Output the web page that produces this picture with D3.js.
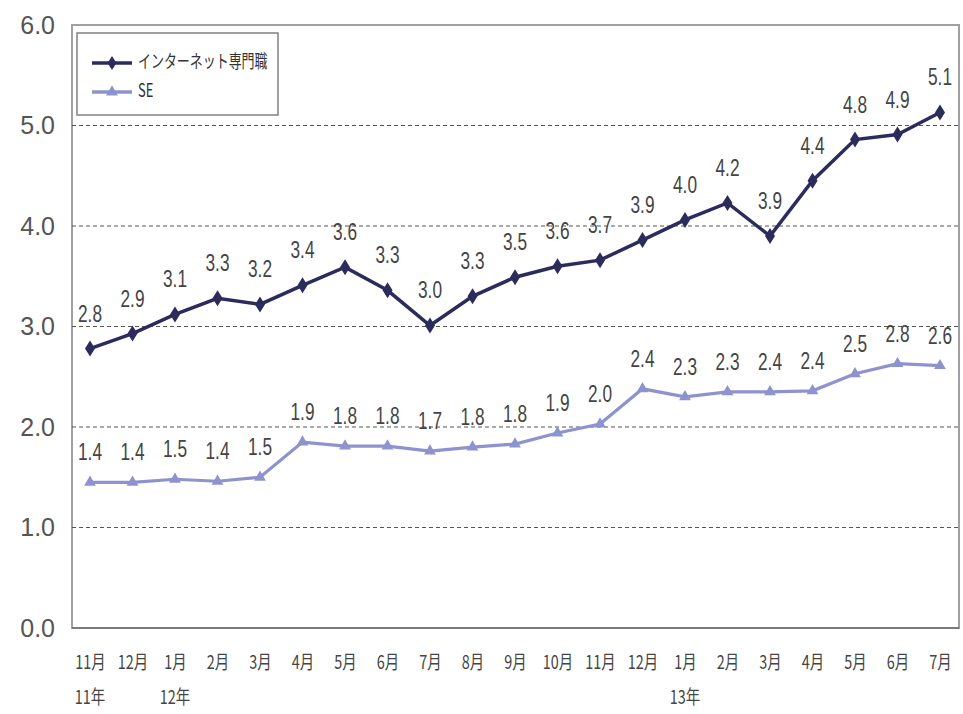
<!DOCTYPE html>
<html><head><meta charset="utf-8">
<script src="https://cdn.jsdelivr.net/npm/d3@7"></script>
<style>body{margin:0;background:#fff}svg{display:block}</style>
</head><body>
<svg id="c" width="963" height="714"></svg>
<script>
const months = ["11月","12月","1月","2月","3月","4月","5月","6月","7月","8月","9月","10月","11月","12月","1月","2月","3月","4月","5月","6月","7月"];
const years = [{i:0,t:"11年"},{i:2,t:"12年"},{i:14,t:"13年"}];
const netValues = [2.78,2.93,3.12,3.28,3.22,3.41,3.59,3.36,3.01,3.30,3.49,3.60,3.66,3.86,4.06,4.23,3.90,4.45,4.86,4.91,5.13];
const netLabels = ["2.8","2.9","3.1","3.3","3.2","3.4","3.6","3.3","3.0","3.3","3.5","3.6","3.7","3.9","4.0","4.2","3.9","4.4","4.8","4.9","5.1"];
const seValues = [1.45,1.45,1.48,1.46,1.50,1.85,1.81,1.81,1.76,1.80,1.83,1.94,2.03,2.38,2.30,2.35,2.35,2.36,2.53,2.63,2.61];
const seLabels = ["1.4","1.4","1.5","1.4","1.5","1.9","1.8","1.8","1.7","1.8","1.8","1.9","2.0","2.4","2.3","2.3","2.4","2.4","2.5","2.8","2.6"];
const yTicks = [0,1,2,3,4,5,6];
const seriesNames = ["インターネット専門職","SE"];

const svg = d3.select("#c");
const L=72,R=959,T=25,B=628;
const x = d3.scalePoint().domain(d3.range(months.length)).range([90,940]);
const y = d3.scaleLinear().domain([0,6]).range([B,T]);

// frame
svg.append("rect").attr("x",L).attr("y",T).attr("width",R-L).attr("height",B-T)
  .attr("fill","none").attr("stroke","#a0a0a0").attr("stroke-width",2);
svg.append("line").attr("x1",L).attr("x2",R).attr("y1",B).attr("y2",B).attr("stroke","#7a7a7a").attr("stroke-width",2);

// grid
svg.selectAll(".g").data(yTicks.filter(d=>d>0&&d<6)).join("line")
  .attr("x1",L).attr("x2",R).attr("y1",d=>y(d)).attr("y2",d=>y(d))
  .attr("stroke","#555").attr("stroke-width",1.2).attr("stroke-dasharray","4,3");

// y axis labels
const yAxis = d3.axisLeft(y).tickValues(yTicks).tickFormat(d3.format(".1f")).tickSize(0).tickPadding(0);
const ya = svg.append("g").attr("transform",`translate(${L-17},0)`).call(yAxis);
ya.select(".domain").remove();
ya.selectAll("text").attr("font-family","Liberation Sans, Arial, sans-serif").attr("font-size",25).attr("fill","#555");

// x axis labels
const xAxis = d3.axisBottom(x).tickFormat(i=>months[i]).tickSize(0).tickPadding(0);
const xa = svg.append("g").attr("transform",`translate(0,${B})`).call(xAxis);
xa.select(".domain").remove();
xa.selectAll(".tick text").attr("y",0).attr("dy",0)
  .attr("transform","translate(0,36) scale(0.76,1)")
  .attr("font-family","Noto Sans CJK JP, sans-serif").attr("font-size",19).attr("fill","#444")
  .attr("dominant-baseline","middle");
svg.selectAll(".yr").data(years).join("text")
  .attr("transform",d=>`translate(${x(d.i)},${B+71}) scale(0.76,1)`)
  .attr("text-anchor","middle").attr("dominant-baseline","middle")
  .attr("font-family","Noto Sans CJK JP, sans-serif").attr("font-size",19).attr("fill","#444")
  .text(d=>d.t);

const line = d3.line().x((d,i)=>x(i)).y(d=>y(d));
const netColor="#2b2c5c", seColor="#8d93cf";

// SE series
svg.append("path").datum(seValues).attr("d",line).attr("fill","none").attr("stroke",seColor).attr("stroke-width",3.2);
const tri = d3.symbol().type(d3.symbolTriangle).size(60);
svg.selectAll(".set").data(seValues).join("path")
  .attr("transform",(d,i)=>`translate(${x(i)},${y(d)})`).attr("d",tri).attr("fill",seColor);

// Net series
svg.append("path").datum(netValues).attr("d",line).attr("fill","none").attr("stroke",netColor).attr("stroke-width",3.5);
svg.selectAll(".nd").data(netValues).join("path")
  .attr("transform",(d,i)=>`translate(${x(i)},${y(d)})`).attr("d","M0,-8L5,0L0,8L-5,0Z").attr("fill",netColor);

// data labels
const lblFont = "Liberation Sans, Arial, sans-serif";
svg.selectAll(".nl").data(netValues).join("text")
  .attr("transform",(d,i)=>`translate(${x(i)},${y(d)-27}) scale(0.72,1)`).attr("text-anchor","middle")
  .attr("font-family",lblFont).attr("font-size",24).attr("fill","#444")
  .text((d,i)=>netLabels[i]);
svg.selectAll(".sl").data(seValues).join("text")
  .attr("transform",(d,i)=>`translate(${x(i)},${y(d)-22}) scale(0.72,1)`).attr("text-anchor","middle")
  .attr("font-family",lblFont).attr("font-size",24).attr("fill","#444")
  .text((d,i)=>seLabels[i]);

// legend
const lg = svg.append("g");
lg.append("rect").attr("x",77).attr("y",33).attr("width",201).attr("height",82)
  .attr("fill","#fff").attr("stroke","#808080").attr("stroke-width",1.5);
const items=[{n:seriesNames[0],c:netColor,y:63,m:"d"},{n:seriesNames[1],c:seColor,y:92,m:"t"}];
items.forEach(it=>{
  lg.append("line").attr("x1",92).attr("x2",132).attr("y1",it.y).attr("y2",it.y).attr("stroke",it.c).attr("stroke-width",3.5);
  lg.append("path").attr("transform",`translate(112,${it.y})`)
    .attr("d",it.m==="d"?"M0,-7L4.5,0L0,7L-4.5,0Z":tri()).attr("fill",it.c);
  lg.append("text").attr("transform",`translate(138,${it.y}) scale(0.72,1)`).attr("dominant-baseline","middle")
    .attr("font-family","Noto Sans CJK JP, sans-serif").attr("font-size",18).attr("fill","#333").text(it.n);
});
</script>
</body></html>
